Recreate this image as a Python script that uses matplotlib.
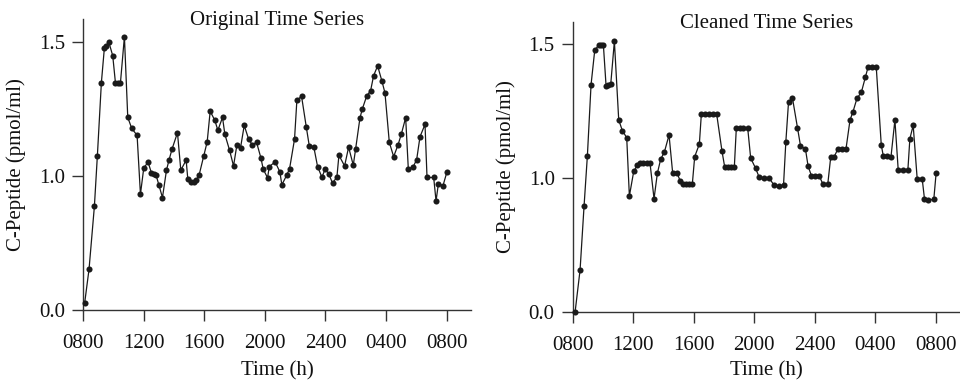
import matplotlib
matplotlib.use("Agg")
import matplotlib.pyplot as plt
import numpy as np

plt.rcParams['font.family'] = ['Liberation Serif', 'DejaVu Serif']
plt.rcParams['font.size'] = 15

# Time in hours from 0800 (values > 24 are the following morning)
orig_hours = [8.110, 8.396, 8.749, 8.947, 9.211, 9.410, 9.542, 9.696, 9.960, 10.137,
              10.291, 10.467, 10.731, 10.952, 11.216, 11.568, 11.789, 12.009, 12.295, 12.515,
              12.692, 12.824, 13.000, 13.242, 13.507, 13.683, 13.881, 14.233, 14.454, 14.806,
              14.916, 15.159, 15.313, 15.489, 15.665, 15.974, 16.194, 16.392, 16.700, 16.899,
              17.207, 17.361, 17.670, 17.934, 18.154, 18.396, 18.639, 18.925, 19.167, 19.454,
              19.740, 19.894, 20.181, 20.291, 20.683, 20.991, 21.123, 21.454, 21.630, 21.960,
              22.115, 22.423, 22.731, 22.930, 23.238, 23.480, 23.767, 23.987, 24.229, 24.471,
              24.758, 24.890, 25.264, 25.529, 25.837, 25.991, 26.278, 26.432, 26.718, 26.982,
              27.181, 27.445, 27.731, 27.930, 28.216, 28.502, 28.789, 29.009, 29.295, 29.471,
              29.802, 30.022, 30.242, 30.573, 30.705, 31.145, 31.300, 31.454, 31.762, 32.026]
orig_values = [0.055, 0.304, 0.773, 1.076, 1.348, 1.478, 1.485, 1.500, 1.448, 1.348,
               1.348, 1.346, 1.519, 1.218, 1.177, 1.151, 0.863, 1.030, 1.051, 1.011,
               1.006, 1.002, 0.935, 0.838, 1.021, 1.061, 1.101, 1.161, 1.021, 1.059,
               0.975, 0.953, 0.958, 0.970, 1.004, 1.076, 1.127, 1.241, 1.207, 1.170,
               1.218, 1.155, 1.096, 1.037, 1.115, 1.105, 1.188, 1.138, 1.116, 1.125,
               1.067, 1.025, 0.985, 1.035, 1.052, 1.015, 0.933, 1.004, 1.026, 1.137,
               1.282, 1.297, 1.184, 1.113, 1.106, 1.035, 0.990, 1.026, 1.006, 0.945,
               0.993, 1.077, 1.037, 1.107, 1.040, 1.100, 1.216, 1.249, 1.297, 1.318,
               1.374, 1.410, 1.353, 1.309, 1.125, 1.072, 1.115, 1.156, 1.217, 1.025,
               1.035, 1.061, 1.146, 1.192, 0.988, 0.988, 0.813, 0.940, 0.928, 1.016]

clean_hours = [8.154, 8.485, 8.749, 8.969, 9.211, 9.454, 9.718, 9.872, 10.026, 10.203,
               10.357, 10.511, 10.753, 11.040, 11.282, 11.568, 11.744, 12.031, 12.273, 12.449,
               12.670, 12.890, 13.110, 13.374, 13.595, 13.815, 14.057, 14.366, 14.608, 14.894,
               15.093, 15.313, 15.511, 15.709, 15.907, 16.062, 16.370, 16.502, 16.744, 16.987,
               17.251, 17.515, 17.868, 18.044, 18.286, 18.441, 18.683, 18.815, 19.057, 19.278,
               19.564, 19.762, 20.093, 20.313, 20.659, 20.967, 21.319, 21.626, 21.934, 22.088,
               22.264, 22.527, 22.857, 23.055, 23.385, 23.560, 23.780, 24.044, 24.286, 24.549,
               24.857, 25.055, 25.275, 25.538, 25.802, 26.066, 26.330, 26.527, 26.791, 27.077,
               27.341, 27.516, 27.780, 28.066, 28.396, 28.527, 28.747, 29.033, 29.297, 29.516,
               29.846, 30.154, 30.286, 30.505, 30.769, 31.099, 31.253, 31.495, 31.868, 32.022]
clean_values = [0.000, 0.316, 0.794, 1.085, 1.350, 1.478, 1.498, 1.498, 1.498, 1.346,
                1.347, 1.351, 1.512, 1.218, 1.178, 1.152, 0.868, 1.026, 1.050, 1.056,
                1.056, 1.056, 1.056, 0.848, 1.019, 1.072, 1.098, 1.162, 1.019, 1.021,
                0.983, 0.960, 0.960, 0.960, 0.960, 1.081, 1.128, 1.240, 1.240, 1.240,
                1.240, 1.240, 1.101, 1.043, 1.042, 1.042, 1.043, 1.189, 1.189, 1.189,
                1.189, 1.076, 1.037, 1.006, 1.002, 1.002, 0.948, 0.943, 0.950, 1.137,
                1.284, 1.299, 1.189, 1.122, 1.109, 1.045, 1.010, 1.010, 1.010, 0.955,
                0.955, 1.080, 1.080, 1.111, 1.111, 1.111, 1.218, 1.249, 1.299, 1.321,
                1.377, 1.414, 1.414, 1.414, 1.124, 1.085, 1.085, 1.078, 1.218, 1.031,
                1.031, 1.031, 1.148, 1.198, 0.998, 0.998, 0.846, 0.838, 0.843, 1.020]

x_ticks = [8, 12, 16, 20, 24, 28, 32]
x_tick_labels = ['0800', '1200', '1600', '2000', '2400', '0400', '0800']
y_ticks = [0.0, 1.0, 1.5]
titles = ['Original Time Series', 'Cleaned Time Series']


# y axis: 0-1.0 gets the same height as 1.0-1.5
def y_forward(v):
    v = np.asarray(v, dtype=float)
    return np.where(v <= 1, v, 1 + 2 * (v - 1))


def y_inverse(v):
    v = np.asarray(v, dtype=float)
    return np.where(v <= 1, v, 1 + (v - 1) / 2)


fig = plt.figure(figsize=(9.6, 3.82), dpi=100)
ax1 = fig.add_axes([0.0865, 0.1885, 0.404, 0.7618])
ax2 = fig.add_axes([0.5966, 0.1825, 0.4034, 0.7607])

line_color = '#1a1a1a'
# (axes, times, values, title, baseline of the x label in axes fraction)
panels = [(ax1, orig_hours, orig_values, titles[0], -0.225),
          (ax2, clean_hours, clean_values, titles[1], -0.217)]
for ax, hours, values, title, xlab_y in panels:
    ax.set_yscale('function', functions=(y_forward, y_inverse))
    ax.plot(hours, values, color=line_color, linewidth=0.9, marker='o',
            markersize=4.4, markerfacecolor=line_color, markeredgewidth=0,
            clip_on=False, zorder=3)
    ax.set_xlim(8, 33.6)
    ax.set_ylim(0, 1.585)
    ax.set_xticks(x_ticks)
    ax.set_xticklabels(x_tick_labels)
    ax.set_yticks(y_ticks)
    ax.set_yticklabels([f'{t:.1f}' for t in y_ticks])
    ax.yaxis.set_minor_locator(matplotlib.ticker.NullLocator())

    for side in ['top', 'right']:
        ax.spines[side].set_visible(False)
    for side in ['left', 'bottom']:
        ax.spines[side].set_color('#333333')
        ax.spines[side].set_linewidth(1.0)
    ax.tick_params(axis='both', direction='out', length=8, width=1.0,
                   color='#333333', labelcolor='#111111')
    ax.tick_params(axis='x', pad=9)
    ax.tick_params(axis='y', pad=5)

    ax.text(0.5, 0.978, title, transform=ax.transAxes, ha='center',
            va='baseline', color='#111111')
    ax.text(0.5, xlab_y, 'Time (h)', transform=ax.transAxes, ha='center',
            va='baseline', color='#111111')
    ax.text(-0.172, 0.5, 'C-Peptide (pmol/ml)', transform=ax.transAxes,
            ha='center', va='center', rotation=90, color='#111111')

fig.savefig('out.png', dpi=100)
plt.close(fig)
